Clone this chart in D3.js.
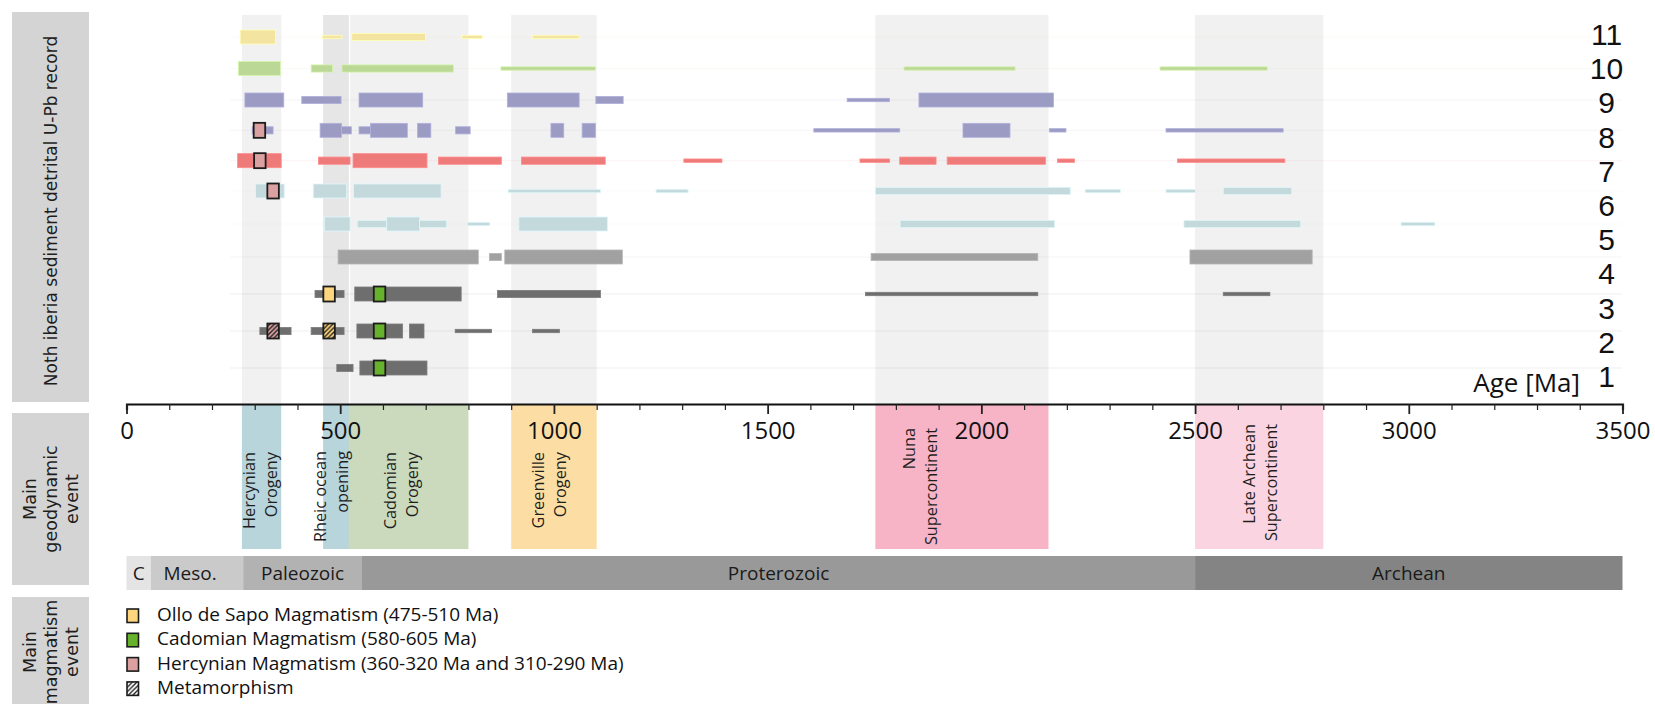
<!DOCTYPE html>
<html>
<head>
<meta charset="utf-8">
<script src="https://cdn.jsdelivr.net/npm/d3@7"></script>
<style>
  html, body { margin: 0; padding: 0; background: #ffffff; }
  svg { display: block; }
</style>
</head>
<body>
<svg id="chart" width="1655" height="704"></svg>
<script>
// ---------------- DATA ----------------
// Row identifiers (sample numbers), bottom (1) to top (11)
const rowLabels = [1, 2, 3, 4, 5, 6, 7, 8, 9, 10, 11];

// Detrital U-Pb age clusters per row: [startMa, endMa, abundanceClass 1=minor 2=medium 3=major]
const row1  = [[492, 530, 2], [546, 703, 3]];
const row2  = [[312, 385, 2], [432, 509, 2], [539, 646, 3], [662, 696, 3], [769, 854, 1], [950, 1013, 1]];
const row3  = [[441, 509, 2], [534, 783, 3], [868, 1109, 2], [1729, 2132, 1], [2566, 2675, 1]];
const row4  = [[495, 823, 3], [849, 877, 2], [885, 1160, 3], [1742, 2132, 2], [2488, 2774, 3]];
const row5  = [[463, 523, 3], [540, 609, 2], [609, 686, 3], [686, 749, 2], [798, 850, 1], [918, 1125, 3],
               [1810, 2171, 2], [2474, 2747, 2], [2982, 3061, 1]];
const row6  = [[302, 369, 3], [437, 515, 3], [531, 736, 3], [893, 1109, 1], [1239, 1314, 1], [1752, 2208, 2],
               [2243, 2325, 1], [2432, 2501, 1], [2566, 2726, 2]];
const row7  = [[260, 362, 3], [449, 523, 2], [530, 703, 3], [730, 877, 2], [924, 1120, 2], [1304, 1393, 1],
               [1716, 1785, 1], [1809, 1894, 2], [1920, 2150, 2], [2178, 2218, 1], [2459, 2710, 1]];
const row8  = [[294, 343, 2], [453, 503, 3], [503, 526, 2], [544, 571, 2], [571, 657, 3], [681, 712, 3],
               [770, 804, 2], [993, 1023, 3], [1066, 1097, 3], [1608, 1809, 1], [1957, 2067, 3],
               [2159, 2198, 1], [2432, 2706, 1]];
const row9  = [[277, 368, 3], [410, 502, 2], [544, 693, 3], [891, 1059, 3], [1098, 1162, 2], [1686, 1785, 1],
               [1854, 2169, 3]];
const row10 = [[262, 360, 3], [432, 482, 2], [504, 765, 2], [876, 1097, 1], [1819, 2079, 1], [2418, 2669, 1]];
const row11 = [[266, 349, 3], [458, 504, 1], [527, 700, 2], [785, 832, 1], [950, 1059, 1]];
const rowSeries = [row1, row2, row3, row4, row5, row6, row7, row8, row9, row10, row11];

// Magmatism markers
const markerRow   = [8, 7, 6, 2, 3, 2, 3, 2, 1];
const markerAge   = [311, 312, 343, 343, 474, 474, 592, 592, 592];
const markerType  = ["hercynian", "hercynian", "hercynian", "hercynian", "ollo", "ollo", "cadomian", "cadomian", "cadomian"];
const markerHatch = [false, false, false, true, false, true, false, false, false];

// Geodynamic events
const eventLines = [["Hercynian", "Orogeny"], ["Rheic ocean", "opening"], ["Cadomian", "Orogeny"],
                    ["Greenville", "Orogeny"], ["Nuna", "Supercontinent"], ["Late Archean", "Supercontinent"]];
const eventStart = [270, 460, 520, 900, 1752, 2500];
const eventEnd   = [362, 522, 800, 1100, 2157, 2800];

// Geological eras
const eraNames = ["C", "Meso.", "Paleozoic", "Proterozoic", "Archean"];
const eraStart = [0, 57, 273, 551, 2500];
const eraEnd   = [57, 273, 551, 2500, 3500];

// Axis ticks
const tickValues = d3.range(0, 3501, 100);
const tickLabelValues = [0, 500, 1000, 1500, 2000, 2500, 3000, 3500];

// Legend
const legendLabels = ["Ollo de Sapo Magmatism (475-510 Ma)", "Cadomian Magmatism (580-605 Ma)",
                      "Hercynian Magmatism (360-320 Ma and 310-290 Ma)", "Metamorphism"];
const legendKeys = ["ollo", "cadomian", "hercynian", "metamorphism"];

// Panel titles
const panelTitles = [["Noth iberia sediment detrital U-Pb record"], ["Main", "geodynamic", "event"], ["Main", "magmatism", "event"]];

// ---------------- STYLE / LAYOUT ----------------
const rowColors = ["#6e6e6e", "#6e6e6e", "#6e6e6e", "#a1a1a1", "#c4d9dc", "#c4d9dc",
                   "#ef7a7a", "#9b9bc4", "#9b9bc4", "#bcd897", "#f4e4a2"];
const markerColors = { ollo: "#fdd57c", cadomian: "#67b22c", hercynian: "#dba1a1", metamorphism: "#ffffff" };
const eventColors = ["#b8d5dc", "#b8d5dc", "#cbdabd", "#fcdea4", "#f6b4c6", "#fad5e1"];
const eventBgColors = ["#f1f1f1", "#e6e6e6", "#f1f1f1", "#f1f1f1", "#f1f1f1", "#f1f1f1"];
const eraColors = ["#e4e4e4", "#cacaca", "#b2b2b2", "#999999", "#838483"];
// first-line baseline (px) and top (px) of the rotated event labels
const labelLayout = { base: [255, 325.5, 396, 543.5, 915, 1255], top: [452, 451, 452, 452, 428, 424], gap: 22 };

const MYRIAD = '"Open Sans", "Noto Sans", sans-serif';
const ARIAL = '"Liberation Sans", Arial, sans-serif';
const GOTHIC = '"DejaVu Sans", Verdana, sans-serif';

const svg = d3.select("#chart");

const x = d3.scaleLinear().domain([0, 3500]).range([126.5, 1622.5]);
const yRow = d3.scaleLinear().domain([1, 3, 4, 6, 9, 11]).range([368, 294, 257, 191, 100, 37]);
const yLabel = d3.scaleLinear().domain([1, 11]).range([387, 45]);
const barH = d3.scaleOrdinal().domain([1, 2, 3]).range([3.4, 7.2, 14]);
const axisY = 404;

// defs: hatch pattern
const defs = svg.append("defs");
const pat = defs.append("pattern").attr("id", "hatch").attr("patternUnits", "userSpaceOnUse")
  .attr("width", 4.5).attr("height", 4.5);
pat.append("path").attr("d", "M-1,1 L1,-1 M0,4.5 L4.5,0 M3.5,5.5 L5.5,3.5")
  .attr("stroke", "#1a1a1a").attr("stroke-width", 1.3);

// ---------------- LEFT PANEL BOXES ----------------
const boxes = [{ y: 12, h: 390 }, { y: 413, h: 172 }, { y: 597, h: 130 }];
svg.selectAll("rect.box").data(boxes).join("rect").attr("class", "box")
  .attr("x", 12).attr("y", d => d.y).attr("width", 77).attr("height", d => d.h)
  .attr("fill", "#d4d4d4");

const titleCenters = [{ cy: 211, base: [57], size: 17 }, { cy: 499, base: [35.5, 56.5, 77.5], size: 17.5 },
                      { cy: 652, base: [35.5, 56.5, 77.5], size: 17.5 }];
panelTitles.forEach((lines, i) => {
  lines.forEach((t, j) => {
    svg.append("text")
      .attr("transform", `translate(${titleCenters[i].base[j]},${titleCenters[i].cy}) rotate(-90)`)
      .attr("text-anchor", "middle")
      .attr("font-family", GOTHIC).attr("font-size", titleCenters[i].size)
      .attr("fill", "#1e1e1e").text(t);
  });
});

// ---------------- TOP PANEL BACKGROUND BANDS ----------------
svg.append("g").selectAll("rect").data(eventStart).join("rect")
  .attr("x", (d, i) => x(d)).attr("width", (d, i) => x(eventEnd[i]) - x(d))
  .attr("y", 15).attr("height", axisY - 15)
  .attr("fill", (d, i) => eventBgColors[i]);
// thin white separation at Rheic / Cadomian boundary
svg.append("line").attr("x1", x(eventEnd[1])).attr("x2", x(eventEnd[1]))
  .attr("y1", 15).attr("y2", axisY).attr("stroke", "#ffffff").attr("stroke-width", 1.2);

// faint row guide lines
svg.append("g").selectAll("line").data(rowLabels).join("line")
  .attr("x1", 230).attr("x2", 1622)
  .attr("y1", d => yRow(d)).attr("y2", d => yRow(d))
  .attr("stroke", (d, i) => rowColors[i]).attr("stroke-opacity", 0.1).attr("stroke-width", 1);

// ---------------- BARS ----------------
const barData = [];
rowSeries.forEach((arr, i) => arr.forEach(s => barData.push({ row: rowLabels[i], s: s[0], e: s[1], w: s[2], c: rowColors[i] })));
svg.append("g").selectAll("rect").data(barData).join("rect")
  .attr("x", d => x(d.s)).attr("width", d => x(d.e) - x(d.s))
  .attr("y", d => yRow(d.row) - barH(d.w) / 2).attr("height", d => barH(d.w))
  .attr("fill", d => d.c)
  .attr("stroke", d => d3.color(d.c).brighter(0.35)).attr("stroke-width", 0.8);

// ---------------- MARKERS ----------------
const mW = 11.5, mH = 15;
const markers = markerRow.map((r, i) => ({ row: r, age: markerAge[i], type: markerType[i], hatch: markerHatch[i] }));
const mg = svg.append("g");
mg.selectAll("rect.m").data(markers).join("rect").attr("class", "m")
  .attr("x", d => x(d.age) - mW / 2).attr("y", d => yRow(d.row) - mH / 2)
  .attr("width", mW).attr("height", mH)
  .attr("fill", d => markerColors[d.type]);
mg.selectAll("rect.h").data(markers.filter(d => d.hatch)).join("rect").attr("class", "h")
  .attr("x", d => x(d.age) - mW / 2).attr("y", d => yRow(d.row) - mH / 2)
  .attr("width", mW).attr("height", mH).attr("fill", "url(#hatch)");
mg.selectAll("rect.o").data(markers).join("rect").attr("class", "o")
  .attr("x", d => x(d.age) - mW / 2).attr("y", d => yRow(d.row) - mH / 2)
  .attr("width", mW).attr("height", mH)
  .attr("fill", "none").attr("stroke", "#1c1c1c").attr("stroke-width", 1.8);

// ---------------- ROW LABELS ----------------
svg.append("g").selectAll("text").data(rowLabels).join("text")
  .attr("x", 1606.5).attr("y", d => yLabel(d))
  .attr("text-anchor", "middle")
  .attr("font-family", ARIAL).attr("font-size", 30).attr("fill", "#111")
  .text(d => d);

svg.append("text").attr("x", 1580).attr("y", 392).attr("text-anchor", "end")
  .attr("font-family", MYRIAD).attr("font-size", 26).attr("fill", "#111").text("Age [Ma]");

// ---------------- EVENT BANDS (below axis) ----------------
svg.append("g").selectAll("rect").data(eventStart).join("rect")
  .attr("x", d => x(d)).attr("width", (d, i) => x(eventEnd[i]) - x(d))
  .attr("y", axisY).attr("height", 145)
  .attr("fill", (d, i) => eventColors[i]);

eventLines.forEach((lines, i) => {
  lines.forEach((t, j) => {
    const bx = labelLayout.base[i] + j * labelLayout.gap;
    svg.append("text")
      .attr("transform", `translate(${bx},${labelLayout.top[i]}) rotate(-90)`)
      .attr("text-anchor", "end")
      .attr("font-family", MYRIAD).attr("font-size", 16.3).attr("fill", "#1e1e1e")
      .text(t);
  });
});

// ---------------- AXIS ----------------
const axis = d3.axisBottom(x).tickValues(tickValues).tickSizeOuter(0).tickSize(6)
  .tickFormat(d => tickLabelValues.includes(d) ? d : "");
const ag = svg.append("g").attr("transform", `translate(0,${axisY})`).call(axis);
ag.select(".domain").attr("stroke", "#111").attr("stroke-width", 2.2);
ag.selectAll(".tick line").attr("stroke", "#222").attr("stroke-width", d => d % 500 === 0 ? 1.8 : 1.2)
  .attr("y2", d => d % 500 === 0 ? 10 : 6);
ag.selectAll(".tick text").attr("y", 35).attr("dy", 0)
  .attr("font-family", MYRIAD).attr("font-size", 24).attr("fill", "#111");

// ---------------- ERA BAR ----------------
const eg = svg.append("g");
eg.selectAll("rect").data(eraNames).join("rect")
  .attr("x", (d, i) => x(eraStart[i])).attr("width", (d, i) => x(eraEnd[i]) - x(eraStart[i]))
  .attr("y", 556).attr("height", 34)
  .attr("fill", (d, i) => eraColors[i]);
eg.selectAll("text").data(eraNames).join("text")
  .attr("x", (d, i) => (x(eraStart[i]) + x(eraEnd[i])) / 2 + (i === 1 ? -7 : 0))
  .attr("y", 580).attr("text-anchor", "middle")
  .attr("font-family", MYRIAD).attr("font-size", 19).attr("fill", "#1a1a1a")
  .text(d => d);

// ---------------- LEGEND ----------------
const lg = svg.append("g");
legendKeys.forEach((k, i) => {
  const ly = 609 + i * 24.3;
  lg.append("rect").attr("x", 127).attr("y", ly).attr("width", 11.5).attr("height", 13.5)
    .attr("fill", k === "metamorphism" ? "url(#hatch)" : markerColors[k])
    .attr("stroke", "#1c1c1c").attr("stroke-width", 1.6);
  lg.append("text").attr("x", 157).attr("y", ly + 12)
    .attr("font-family", MYRIAD).attr("font-size", 19).attr("fill", "#111")
    .text(legendLabels[i]);
});
</script>
</body>
</html>
